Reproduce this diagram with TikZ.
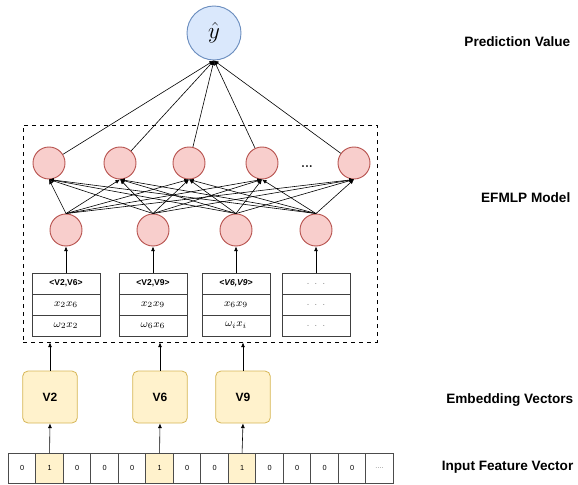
\documentclass[tikz,border=0pt]{standalone}
\usepackage{fontspec}
\setsansfont{Liberation Sans}
\usetikzlibrary{arrows.meta,calc,positioning}

\definecolor{outfill}{HTML}{DAE8FC}
\definecolor{outline}{HTML}{6C8EBF}
\definecolor{hidfill}{HTML}{F8CECC}
\definecolor{hidline}{HTML}{B85450}
\definecolor{embfill}{HTML}{FFF2CC}
\definecolor{embline}{HTML}{D6B656}

\begin{document}
\begin{tikzpicture}[x=0.75pt,y=-0.75pt,
    neuron/.style={circle,draw=hidline,fill=hidfill,line width=0.7pt,minimum size=24pt,inner sep=0pt},
    conn/.style={-{Latex[length=3.5pt,width=3pt]},line width=0.45pt},
    pairbox/.style={draw=black!75,line width=0.6pt,minimum width=51pt,minimum height=15.75pt,inner sep=0pt,outer sep=0pt},
    embbox/.style={draw=embline,fill=embfill,rounded corners=4pt,line width=0.6pt,minimum width=41pt,minimum height=39pt,font=\sffamily\bfseries\fontsize{9}{10}\selectfont},
    bitcell/.style={draw=black!70,line width=0.5pt,minimum width=20.6pt,minimum height=22.5pt,inner sep=0pt,outer sep=0pt,font=\sffamily\fontsize{5.5}{6}\selectfont},
    sidelabel/.style={anchor=east,font=\sffamily\bfseries\fontsize{10.2}{12}\selectfont}]

    % Fix the page size
    \useasboundingbox (0,0) rectangle (578,485);

    % Output node
    \node[circle,draw=outline,fill=outfill,line width=0.7pt,minimum size=40.5pt,inner sep=0pt] (yhat) at (214,33) {\LARGE$\hat{y}$};

    % Dashed model box
    \node[draw,dashed,line width=0.7pt,minimum width=265.5pt,minimum height=162.75pt,inner sep=0pt] (model) at (200,233.5) {};

    % Hidden layers
    \foreach \i/\xx in {1/49,2/120,3/189,4/262,5/354}
        \node[neuron] (h\i) at (\xx,163) {};
    \node[font=\bfseries\small] (hdots) at (307,167) {...};
    \foreach \j/\xx in {1/66,2/153,3/236,4/316}
        \node[neuron] (f\j) at (\xx,230) {};

    % Feature pair tables
    \foreach \j/\xx/\pair/\prod/\wt in {
        1/66/{<V2,V6>}/{$x_2x_6$}/{$\omega_2x_2$},
        2/153/{<V2,V9>}/{$x_2x_9$}/{$\omega_6x_6$},
        3/236/{\itshape <V6,V9>}/{$x_6x_9$}/{$\omega_ix_i$}}{
        \node[pairbox,font=\sffamily\bfseries\fontsize{6.4}{7}\selectfont] (p\j) at (\xx,283.5) {\pair};
        \node[pairbox,below=0pt of p\j,font=\fontsize{8}{9}\selectfont] (q\j) {\prod};
        \node[pairbox,below=0pt of q\j,font=\fontsize{8}{9}\selectfont] (r\j) {\wt};
    }
    \node[pairbox,text=gray,font=\fontsize{7}{8}\selectfont] (p4) at (316,283.5) {. . .};
    \node[pairbox,below=0pt of p4,text=gray,font=\fontsize{7}{8}\selectfont] (q4) {. . .};
    \node[pairbox,below=0pt of q4,text=gray,font=\fontsize{7}{8}\selectfont] (r4) {. . .};

    % Embedding vectors
    \node[embbox] (e1) at (50,397) {V2};
    \node[embbox] (e2) at (160,397) {V6};
    \node[embbox] (e3) at (243,397) {V9};

    % Input feature vector
    \foreach \k/\v in {1/0,2/1,3/0,4/0,5/0,6/1,7/0,8/0,9/1,10/0,11/0,12/0,13/0}{
        \ifnum\v=1
            \node[bitcell,fill=embfill] (c\k) at ({8.3+27.5*(\k-0.5)},468) {\v};
        \else
            \node[bitcell] (c\k) at ({8.3+27.5*(\k-0.5)},468) {\v};
        \fi
    }
    \node[bitcell,text=gray] (c14) at ({8.3+27.5*13.5},468) {....};

    % Connections
    \foreach \j in {1,...,4}
        \foreach \i in {1,...,5}
            \draw[conn] (f\j.north) -- (h\i.south);
    \foreach \i in {1,...,5}
        \draw[conn] (h\i) -- (yhat.south);
    \foreach \j in {1,...,4}
        \draw[conn] (p\j.north) -- (f\j.south);
    \foreach \e in {1,2,3}
        \draw[conn] (e\e.north) -- (e\e.north |- model.south);
    \draw[conn] (c2.north) -- (e1.south);
    \draw[conn] (c6.north) -- (e2.south);
    \draw[conn] (c9.north) -- (e3.south);

    % Side labels
    \node[sidelabel] (lblpred) at (575,42) {Prediction Value};
    \node[sidelabel] (lblmodel) at (575,198) {EFMLP Model};
    \node[sidelabel] (lblemb) at (578,400) {Embedding Vectors};
    \node[sidelabel] (lblin) at (578,467) {Input Feature Vector};
\end{tikzpicture}
\end{document}
